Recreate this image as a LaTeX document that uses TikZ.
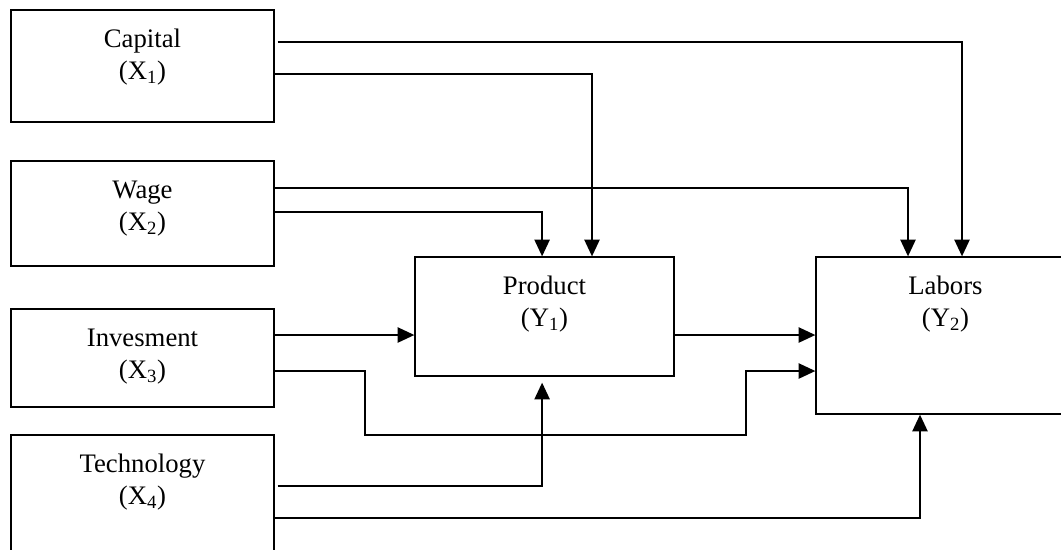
\documentclass[tikz,border=0pt]{standalone}
\usepackage{fontspec}
\setmainfont{Liberation Serif}
\usetikzlibrary{arrows.meta}

\begin{document}
\begin{tikzpicture}[font=\fontsize{19}{23}\selectfont,
  box/.style={draw, line width=0.9pt, inner sep=0pt},
  lbl/.style={align=center, inner sep=0pt},
  conn/.style={line width=1.4pt, -{Triangle[length=0.42cm, width=0.38cm]}}]
  \clip (0,0) rectangle (26.525,-13.725);
  % exogenous boxes
  \node[box, minimum width=6.575cm, minimum height=2.8cm] (cap) at (3.5625,-1.65) {};
  \node[box, minimum width=6.575cm, minimum height=2.625cm] (wage) at (3.5625,-5.3375) {};
  \node[box, minimum width=6.575cm, minimum height=2.45cm] (inv) at (3.5625,-8.95) {};
  \node[box, minimum width=6.575cm, minimum height=3.125cm] (tech) at (3.5625,-12.4375) {};
  % endogenous boxes
  \node[box, minimum width=6.475cm, minimum height=2.975cm] (prod) at (13.6125,-7.9125) {};
  \node[box, minimum width=6.475cm, minimum height=3.925cm] (lab) at (23.6375,-8.3875) {};
  % labels
  \node[lbl] (capt) at ([yshift=-1.2cm]cap.north) {Capital\\(X\textsubscript{1})};
  \node[lbl] (waget) at ([yshift=-1.2cm]wage.north) {Wage\\(X\textsubscript{2})};
  \node[lbl] (invt) at ([yshift=-1.2cm]inv.north) {Invesment\\(X\textsubscript{3})};
  \node[lbl] (techt) at ([yshift=-1.2cm]tech.north) {Technology\\(X\textsubscript{4})};
  \node[lbl] (prodt) at ([yshift=-1.2cm]prod.north) {Product\\(Y\textsubscript{1})};
  \node[lbl] (labt) at ([yshift=-1.2cm]lab.north) {Labors\\(Y\textsubscript{2})};
  \coordinate (bend) at (18.65,-10.875);
  % paths
  \draw[conn] ([shift={(0.075,0.6)}]cap.east) -| ([xshift=0.4125cm]lab.north);
  \draw[conn] ([yshift=-0.2cm]cap.east) -| ([xshift=1.1875cm]prod.north);
  \draw[conn] ([yshift=0.6375cm]wage.east) -| ([xshift=-0.9375cm]lab.north);
  \draw[conn] ([yshift=0.04cm]wage.east) -| ([xshift=-0.06cm]prod.north);
  \draw[conn] ([yshift=0.575cm]inv.east) -- ([yshift=0.575cm]inv.east -| prod.west);
  \draw[conn] ([yshift=-0.325cm]inv.east) -- ++(2.25,0) |- (bend) |- ([yshift=-0.8875cm]lab.west);
  \draw[conn] ([yshift=-0.4625cm]prod.east) -- ([yshift=-0.4625cm]prod.east -| lab.west);
  \draw[conn] ([shift={(0.075,0.2875)}]tech.east) -| ([shift={(-0.06,-0.15)}]prod.south);
  \draw[conn] ([yshift=-0.5125cm]tech.east) -| ([xshift=-0.6375cm]lab.south);
\end{tikzpicture}
\end{document}
